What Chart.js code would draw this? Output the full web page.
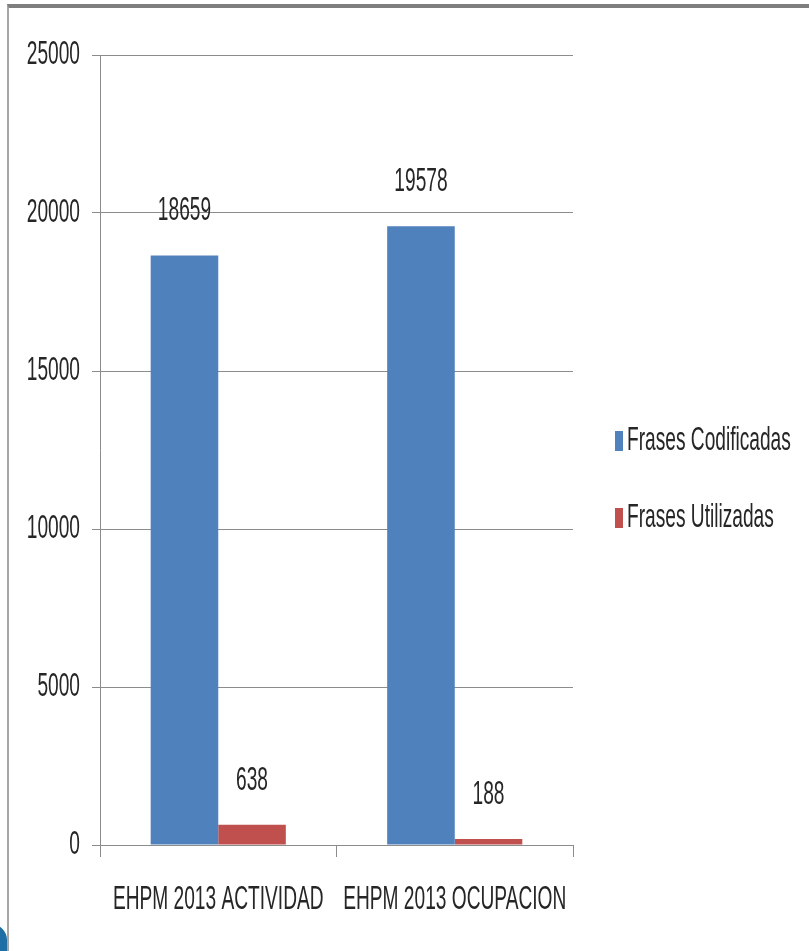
<!DOCTYPE html>
<html>
<head>
<meta charset="utf-8">
<script src="https://cdn.jsdelivr.net/npm/chart.js@4/dist/chart.umd.min.js"></script>
<style>
  body { margin: 0; background: #fff; }
  #wrap { position: relative; width: 809px; height: 951px; overflow: hidden; }
  #frame { position: absolute; left: 7px; top: 4px; right: -10px; bottom: -10px;
    border-top: 4px solid #7f7f7f; border-left: 2px solid #a6a6a6; pointer-events: none; }
  #corner { position: absolute; left: -16px; top: 924px; width: 23px; height: 60px;
    background: #1d6fa5; border-radius: 0 16px 0 0; }
  canvas { position: absolute; left: 0; top: 0; }
</style>
</head>
<body>
<div id="wrap">
  <canvas id="chart" width="809" height="951"></canvas>
  <div id="frame"></div>
  <div id="corner"></div>
</div>
<script>
// Chart data
const categories = ['EHPM 2013 ACTIVIDAD', 'EHPM 2013 OCUPACION'];
const seriesNames = ['Frases Codificadas', 'Frases Utilizadas'];
const codificadas = [18659, 19578];
const utilizadas = [638, 188];
const yMax = 25000;
const yStep = 5000;

// the original text is a very narrow font, so text is squeezed sideways
const FONT = '33px "Liberation Sans", Arial, sans-serif';
const SQUEEZE = 0.58;
const TEXT_COLOR = '#262626';

function narrowText(ctx, text, x, y, align) {
  ctx.save();
  ctx.translate(x, y);
  ctx.scale(SQUEEZE, 1);
  ctx.font = FONT;
  ctx.fillStyle = TEXT_COLOR;
  ctx.textAlign = align;
  ctx.textBaseline = 'middle';
  ctx.fillText(text, 0, 0);
  ctx.restore();
}

// tick labels, value labels and legend, all drawn narrow
const narrowLabels = {
  id: 'narrowLabels',
  afterDraw(chart) {
    const ctx = chart.ctx;
    const x = chart.scales.x;
    const y = chart.scales.y;
    const area = chart.chartArea;

    // y axis labels
    y.ticks.forEach((t, i) => {
      narrowText(ctx, String(t.value), area.left - 20, y.getPixelForTick(i), 'right');
    });

    // category labels
    chart.data.labels.forEach((lab, i) => {
      narrowText(ctx, lab, x.getPixelForValue(i), area.bottom + 55, 'center');
    });

    // values above the bars
    chart.data.datasets.forEach((ds, i) => {
      chart.getDatasetMeta(i).data.forEach((bar, j) => {
        narrowText(ctx, String(ds.data[j]), bar.x, bar.y - 44, 'center');
      });
    });

    // legend
    const legX = area.right + 42;
    chart.data.datasets.forEach((ds, i) => {
      const cy = 441 + i * 77;
      ctx.fillStyle = ds.backgroundColor;
      ctx.fillRect(legX, cy - 10, 8, 20);
      narrowText(ctx, ds.label, legX + 12, cy, 'left');
    });
  }
};

new Chart(document.getElementById('chart'), {
  type: 'bar',
  data: {
    labels: categories,
    datasets: [
      { label: seriesNames[0], data: codificadas, backgroundColor: '#4f81bd' },
      { label: seriesNames[1], data: utilizadas, backgroundColor: '#c0504d' }
    ]
  },
  options: {
    responsive: false,
    animation: false,
    layout: { padding: { left: 0, top: 55, right: 236, bottom: 0 } },
    datasets: { bar: { categoryPercentage: 2 / 3.5, barPercentage: 1 } },
    plugins: {
      tooltip: { enabled: false },
      legend: { display: false }
    },
    scales: {
      x: {
        grid: { drawOnChartArea: false, drawTicks: true, tickLength: 12, color: '#8c8c8c' },
        border: { color: '#8c8c8c' },
        ticks: { display: false },
        afterFit(scale) { scale.height = 106; }
      },
      y: {
        min: 0,
        max: yMax,
        grid: { color: '#8c8c8c', tickLength: 8 },
        border: { color: '#8c8c8c' },
        ticks: { display: false, stepSize: yStep },
        afterFit(scale) { scale.width = 100; }
      }
    }
  },
  plugins: [narrowLabels]
});
</script>
</body>
</html>
